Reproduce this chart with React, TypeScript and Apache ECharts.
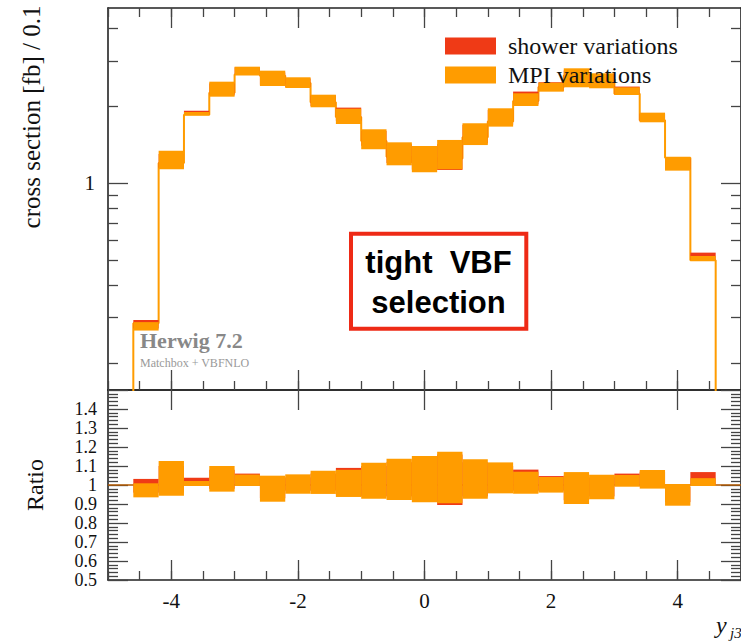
import React, { useEffect, useRef } from "react";
import * as echarts from "echarts";

// ---------- data ----------
const binEdges = [-4.6, -4.2, -3.8, -3.4, -3.0, -2.6, -2.2, -1.8, -1.4, -1.0, -0.6, -0.2, 0.2, 0.6, 1.0, 1.4, 1.8, 2.2, 2.6, 3.0, 3.4, 3.8, 4.2, 4.6];

// upper panel: cross section per bin (fb / 0.1)
const nominal = [0.285, 1.2, 1.85, 2.25, 2.65, 2.62, 2.46, 2.07, 1.81, 1.46, 1.27, 1.21, 1.25, 1.51, 1.74, 2.09, 2.37, 2.63, 2.54, 2.23, 1.76, 1.257, 0.502];
const mpiLo = [0.267, 1.134, 1.84, 2.174, 2.641, 2.393, 2.35, 1.977, 1.702, 1.357, 1.175, 1.104, 1.134, 1.409, 1.662, 2.0, 2.274, 2.365, 2.344, 2.207, 1.728, 1.12, 0.4995];
const mpiHi = [0.288, 1.34, 1.896, 2.487, 2.845, 2.745, 2.587, 2.213, 1.952, 1.623, 1.444, 1.397, 1.475, 1.713, 1.959, 2.241, 2.465, 2.804, 2.681, 2.365, 1.884, 1.263, 0.521];
const showerLo = [0.272, 1.15, 1.85, 2.2, 2.66, 2.42, 2.37, 2.0, 1.75, 1.4, 1.2, 1.13, 1.127, 1.43, 1.69, 2.03, 2.29, 2.4, 2.37, 2.22, 1.74, 1.13, 0.503];
const showerHi = [0.2935, 1.3, 1.918, 2.45, 2.83, 2.7, 2.56, 2.2, 1.971, 1.6, 1.42, 1.37, 1.42, 1.69, 1.93, 2.276, 2.475, 2.75, 2.65, 2.38, 1.87, 1.25, 0.537];

// lower panel: ratio to nominal
const mpiRatioLo = [0.935, 0.944, 0.995, 0.965, 0.995, 0.912, 0.954, 0.953, 0.937, 0.928, 0.921, 0.909, 0.904, 0.928, 0.956, 0.954, 0.96, 0.9, 0.925, 0.991, 0.981, 0.891, 0.995];
const mpiRatioHi = [1.009, 1.126, 1.021, 1.1, 1.055, 1.049, 1.056, 1.075, 1.08, 1.117, 1.138, 1.153, 1.175, 1.135, 1.119, 1.07, 1.042, 1.068, 1.054, 1.053, 1.079, 1.005, 1.036];
const showerRatioLo = [0.96, 0.96, 1.0, 0.98, 1.0, 0.93, 0.97, 0.97, 0.95, 0.94, 0.94, 0.93, 0.895, 0.94, 0.97, 0.97, 0.97, 0.92, 0.94, 1.0, 0.99, 0.91, 1.0];
const showerRatioHi = [1.032, 1.1, 1.038, 1.08, 1.06, 1.03, 1.04, 1.06, 1.09, 1.1, 1.12, 1.13, 1.16, 1.12, 1.1, 1.081, 1.047, 1.05, 1.04, 1.06, 1.07, 0.99, 1.068];

// axes
const xRange = [-5, 5];
const xMajorTicks = [-4, -2, 0, 2, 4];
const upperRange = [0.1567, 4.815];
const upperMinorTicks = [0.2, 0.3, 0.4, 0.5, 0.6, 0.7, 0.8, 0.9, 2, 3, 4];
const upperMajorTicks = [1];
const ratioRange = [0.5, 1.5];
const ratioLabels = [0.5, 0.6, 0.7, 0.8, 0.9, 1, 1.1, 1.2, 1.3, 1.4];
const legendNames = ["shower variations", "MPI variations"];

// ---------- styling ----------
const RED = "#ef3a16";
const ORANGE = "#ff9c00";
const BOX_RED = "#ee2a16";
const AX = "#222222";
const TK = "#444444";
const SERIF = "Liberation Serif";
const SANS = "Liberation Sans";

function bandRows(lo: number[], hi: number[]) {
  return lo.map((l, i) => [binEdges[i], binEdges[i + 1], l, hi[i]]);
}

function stepRows(vals: number[], floor: number) {
  const pts: number[][] = [[binEdges[0], floor]];
  vals.forEach((v, i) => {
    pts.push([binEdges[i], v]);
    pts.push([binEdges[i + 1], v]);
  });
  pts.push([binEdges[binEdges.length - 1], floor]);
  return pts;
}

const renderBand = (color: string) => (params: any, api: any) => {
  const a = api.coord([api.value(0), api.value(3)]);
  const b = api.coord([api.value(1), api.value(2)]);
  return {
    type: "rect",
    shape: { x: a[0], y: a[1], width: b[0] - a[0], height: b[1] - a[1] },
    style: { fill: color },
  };
};

const tickLine = { color: TK, width: 1.3 };
const axLine = { show: true, onZero: false, lineStyle: { color: AX, width: 1.6 } };
const noLine = { show: false, onZero: false };

function xAx(grid: number, pos: string, major: boolean, line: boolean, labels: boolean) {
  const o: any = {
    gridIndex: grid,
    type: "value",
    min: xRange[0],
    max: xRange[1],
    position: pos,
    axisLine: line ? axLine : noLine,
    splitLine: { show: false },
    axisTick: { inside: true, length: major ? 20 : 9, lineStyle: tickLine },
    axisLabel: { show: false },
  };
  if (major) {
    o.axisTick.customValues = xMajorTicks;
    if (labels) {
      o.axisLabel = {
        show: true,
        customValues: xMajorTicks,
        fontFamily: SERIF,
        fontSize: 21,
        color: "#111",
        margin: 10,
        formatter: (v: number) => String(v),
      };
    }
  } else {
    o.interval = 0.5;
  }
  return o;
}

function upperTwin(pos: string, major: boolean, line: boolean, labels: boolean) {
  const ticks = (major ? upperMajorTicks : upperMinorTicks).map((v) => Math.log10(v));
  const o: any = {
    gridIndex: 0,
    type: "value",
    min: Math.log10(upperRange[0]),
    max: Math.log10(upperRange[1]),
    position: pos,
    axisLine: line ? axLine : noLine,
    splitLine: { show: false },
    axisTick: { inside: true, length: major ? 20 : 10, customValues: ticks, lineStyle: tickLine },
    axisLabel: { show: false },
  };
  if (labels) {
    o.axisLabel = {
      show: true,
      customValues: ticks,
      fontFamily: SERIF,
      fontSize: 21,
      color: "#111",
      margin: 13,
      formatter: (v: number) => String(Math.round(Math.pow(10, v))),
    };
  }
  return o;
}

function ratioAx(pos: string) {
  return {
    gridIndex: 1,
    type: "value",
    min: ratioRange[0],
    max: ratioRange[1],
    interval: 0.1,
    position: pos,
    axisLine: axLine,
    splitLine: { show: false },
    axisTick: { inside: true, length: 20, lineStyle: tickLine },
    minorTick: { show: true, splitNumber: 5, length: 10, lineStyle: tickLine },
    minorSplitLine: { show: false },
    axisLabel: { show: false },
  };
}

// label-only axis (alternate labels go on two axes so none is dropped as "overlapping")
function ratioLabelAx(parity: number) {
  return {
    gridIndex: 1,
    type: "value",
    min: ratioRange[0],
    max: ratioRange[1],
    position: "left",
    axisLine: noLine,
    axisTick: { show: false },
    splitLine: { show: false },
    axisLabel: {
      show: true,
      customValues: ratioLabels.filter((_, i) => i % 2 === parity),
      fontFamily: SERIF,
      fontSize: 18,
      lineHeight: 16,
      color: "#111",
      margin: 11,
      formatter: (v: number) => String(Math.round(v * 10) / 10),
    },
  };
}

export default function App() {
  const ref = useRef<HTMLDivElement>(null);
  useEffect(() => {
    if (!ref.current) return;
    const chart = echarts.init(ref.current, undefined, { renderer: "svg" });
    const option: any = {
      animation: false,
      backgroundColor: "#ffffff",
      grid: [
        { left: 108, top: 8, width: 636, height: 382 },
        { left: 108, top: 390, width: 636, height: 190 },
      ],
      xAxis: [
        xAx(0, "bottom", false, true, false), // 0: upper data axis
        xAx(0, "bottom", true, false, false),
        xAx(0, "top", false, true, false),
        xAx(0, "top", true, false, false),
        xAx(1, "bottom", false, true, false), // 4: ratio data axis
        xAx(1, "bottom", true, false, true),
        xAx(1, "top", true, true, false),
      ],
      yAxis: [
        {
          gridIndex: 0,
          type: "log",
          min: upperRange[0],
          max: upperRange[1],
          show: false,
          axisLine: { onZero: false },
        }, // 0 upper data axis
        upperTwin("left", false, true, false),
        upperTwin("left", true, false, true),
        upperTwin("right", false, true, false),
        upperTwin("right", true, false, false),
        ratioAx("left"), // 5 ratio data axis
        ratioAx("right"),
        ratioLabelAx(0),
        ratioLabelAx(1),
      ],
      legend: {
        data: legendNames,
        orient: "vertical",
        left: 440,
        top: 29,
        itemWidth: 51,
        itemHeight: 17,
        itemGap: 5,
        icon: "rect",
        selectedMode: false,
        textStyle: { fontFamily: SERIF, fontSize: 24, color: "#111", padding: [0, 0, 0, 7] },
      },
      series: [
        {
          name: legendNames[0],
          type: "custom",
          xAxisIndex: 0,
          yAxisIndex: 0,
          z: 2,
          itemStyle: { color: RED },
          renderItem: renderBand(RED),
          encode: { x: [0, 1], y: [2, 3] },
          data: bandRows(showerLo, showerHi),
        },
        {
          name: legendNames[1],
          type: "custom",
          xAxisIndex: 0,
          yAxisIndex: 0,
          z: 2,
          itemStyle: { color: ORANGE },
          renderItem: renderBand(ORANGE),
          encode: { x: [0, 1], y: [2, 3] },
          data: bandRows(mpiLo, mpiHi),
        },
        {
          name: "nominal",
          type: "line",
          xAxisIndex: 0,
          yAxisIndex: 0,
          z: 1,
          symbol: "none",
          clip: true,
          lineStyle: { color: ORANGE, width: 2 },
          data: stepRows(nominal, 0.05),
        },
        {
          name: "ratio one",
          type: "line",
          xAxisIndex: 4,
          yAxisIndex: 5,
          z: 1,
          symbol: "none",
          lineStyle: { color: "#b35a00", width: 1.5 },
          data: [
            [xRange[0], 1],
            [xRange[1], 1],
          ],
        },
        {
          name: legendNames[0],
          type: "custom",
          xAxisIndex: 4,
          yAxisIndex: 5,
          z: 2,
          itemStyle: { color: RED },
          renderItem: renderBand(RED),
          encode: { x: [0, 1], y: [2, 3] },
          data: bandRows(showerRatioLo, showerRatioHi),
        },
        {
          name: legendNames[1],
          type: "custom",
          xAxisIndex: 4,
          yAxisIndex: 5,
          z: 2,
          itemStyle: { color: ORANGE },
          renderItem: renderBand(ORANGE),
          encode: { x: [0, 1], y: [2, 3] },
          data: bandRows(mpiRatioLo, mpiRatioHi),
        },
      ],
      graphic: [
        {
          type: "text",
          x: 31,
          y: 117,
          rotation: Math.PI / 2,
          style: {
            text: "cross section [fb] / 0.1",
            fontFamily: SERIF,
            fontSize: 25,
            fill: "#111",
            align: "center",
            verticalAlign: "middle",
            textAlign: "center",
            textVerticalAlign: "middle",
          },
        },
        {
          type: "text",
          x: 35,
          y: 485,
          rotation: Math.PI / 2,
          style: {
            text: "Ratio",
            fontFamily: SERIF,
            fontSize: 24,
            fill: "#111",
            align: "center",
            verticalAlign: "middle",
            textAlign: "center",
            textVerticalAlign: "middle",
          },
        },
        {
          type: "text",
          x: 716,
          y: 625,
          style: {
            text: "y",
            fontFamily: SERIF,
            fontStyle: "italic",
            fontSize: 24,
            fill: "#111",
            align: "left",
            verticalAlign: "middle",
            textAlign: "left",
            textVerticalAlign: "middle",
          },
        },
        {
          type: "text",
          x: 730,
          y: 633,
          style: {
            text: "j3",
            fontFamily: SERIF,
            fontStyle: "italic",
            fontSize: 15,
            fill: "#111",
            align: "left",
            verticalAlign: "middle",
            textAlign: "left",
            textVerticalAlign: "middle",
          },
        },
        {
          type: "rect",
          shape: { x: 351, y: 233.7, width: 175.3, height: 95 },
          style: { fill: "#ffffff", stroke: BOX_RED, lineWidth: 4 },
          z: 10,
        },
        {
          type: "text",
          x: 438.5,
          y: 262,
          z: 11,
          style: {
            text: "tight  VBF",
            fontFamily: SANS,
            fontWeight: "bold",
            fontSize: 31,
            fill: "#000",
            align: "center",
            verticalAlign: "middle",
            textAlign: "center",
            textVerticalAlign: "middle",
          },
        },
        {
          type: "text",
          x: 438.5,
          y: 302,
          z: 11,
          style: {
            text: "selection",
            fontFamily: SANS,
            fontWeight: "bold",
            fontSize: 31,
            fill: "#000",
            align: "center",
            verticalAlign: "middle",
            textAlign: "center",
            textVerticalAlign: "middle",
          },
        },
        {
          type: "text",
          x: 140,
          y: 340,
          z: 11,
          style: {
            text: "Herwig 7.2",
            fontFamily: SERIF,
            fontWeight: "bold",
            fontSize: 22,
            fill: "#888888",
            align: "left",
            verticalAlign: "middle",
            textAlign: "left",
            textVerticalAlign: "middle",
          },
        },
        {
          type: "text",
          x: 140,
          y: 363,
          z: 11,
          style: {
            text: "Matchbox + VBFNLO",
            fontFamily: SERIF,
            fontSize: 12,
            fill: "#999999",
            align: "left",
            verticalAlign: "middle",
            textAlign: "left",
            textVerticalAlign: "middle",
          },
        },
      ],
    };
    chart.setOption(option);
    return () => chart.dispose();
  }, []);
  return (
    <div
      ref={ref}
      style={{ position: "absolute", left: 0, top: 0, width: 741, height: 643, background: "#fff" }}
    />
  );
}
